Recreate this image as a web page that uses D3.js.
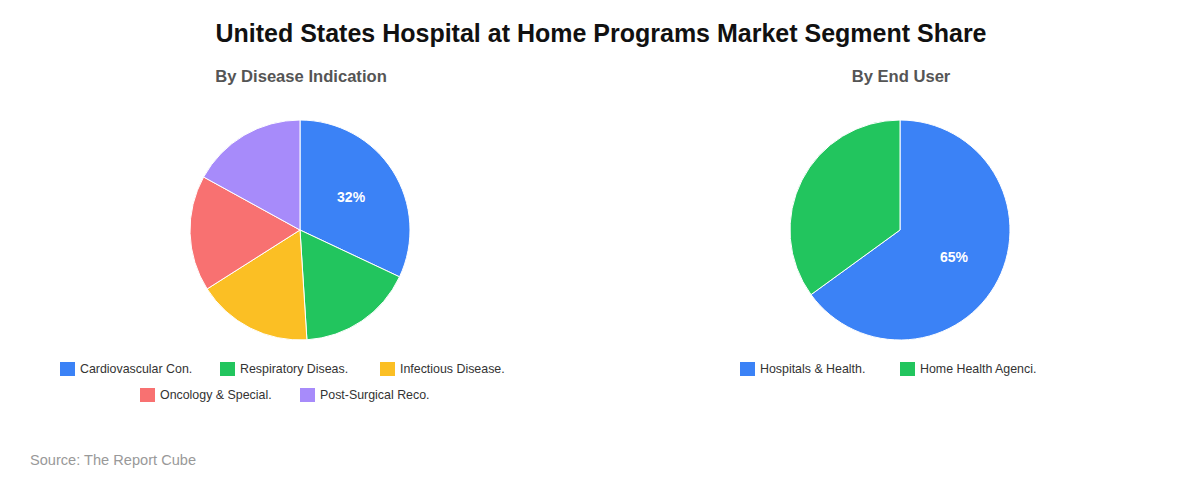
<!DOCTYPE html>
<html><head><meta charset="utf-8">
<script src="https://cdn.jsdelivr.net/npm/d3@7/dist/d3.min.js"></script>
<style>body{margin:0;background:#fff;font-family:"Liberation Sans",Arial,sans-serif;}</style>
</head><body>
<svg id="c" width="1200" height="480"></svg>
<script>
const diseaseCategories = ["Cardiovascular Con.", "Respiratory Diseas.", "Infectious Disease.", "Oncology & Special.", "Post-Surgical Reco."];
const diseaseValues = [32, 17, 17, 17, 17];
const endUserCategories = ["Hospitals & Health.", "Home Health Agenci."];
const endUserValues = [65, 35];
const palette = ["#3b82f6", "#22c55e", "#fbbf24", "#f87171", "#a78bfa"];

const svg = d3.select("#c");
svg.append("text").attr("x", 601).attr("y", 42).attr("text-anchor", "middle")
  .attr("font-size", 25).attr("font-weight", "bold").attr("fill", "#111")
  .text("United States Hospital at Home Programs Market Segment Share");

function drawPie(cx, title, cats, vals, legendRows) {
  svg.append("text").attr("x", cx + 1).attr("y", 82).attr("text-anchor", "middle")
    .attr("font-size", 16.6).attr("font-weight", "bold").attr("fill", "#555").text(title);
  const color = d3.scaleOrdinal().domain(cats).range(palette);
  const data = cats.map((c, i) => ({cat: c, val: vals[i]}));
  const pie = d3.pie().value(d => d.val).sort(null);
  const arcs = pie(data);
  const r = 110;
  const arc = d3.arc().innerRadius(0).outerRadius(r);
  const labelArc = d3.arc().innerRadius(r * 0.55).outerRadius(r * 0.55);
  const g = svg.append("g").attr("transform", `translate(${cx},230)`);
  g.selectAll("path").data(arcs).join("path").attr("d", arc)
    .attr("fill", d => color(d.data.cat)).attr("stroke", "#fff").attr("stroke-width", 1);
  const total = d3.sum(vals);
  const maxV = d3.max(vals);
  g.selectAll("text").data(arcs.filter(d => d.data.val === maxV)).join("text")
    .attr("transform", d => `translate(${labelArc.centroid(d)})`)
    .attr("text-anchor", "middle").attr("dy", "0.35em")
    .attr("font-size", 14).attr("font-weight", "bold").attr("fill", "#fff")
    .text(d => Math.round(d.data.val / total * 100) + "%");
  // legend
  const itemW = 160;
  legendRows.forEach((row, ri) => {
    const startX = cx - row.length * itemW / 2;
    const y = 369 + ri * 26;
    row.forEach((ci, j) => {
      const x = startX + j * itemW;
      svg.append("rect").attr("x", x).attr("y", y - 7).attr("width", 15).attr("height", 14)
        .attr("fill", color(cats[ci]));
      svg.append("text").attr("x", x + 20).attr("y", y).attr("dy", "0.35em")
        .attr("font-size", 12.4).attr("fill", "#333").text(cats[ci]);
    });
  });
}

drawPie(300, "By Disease Indication", diseaseCategories, diseaseValues, [[0, 1, 2], [3, 4]]);
drawPie(900, "By End User", endUserCategories, endUserValues, [[0, 1]]);

svg.append("text").attr("x", 30).attr("y", 465).attr("font-size", 14.6).attr("fill", "#999")
  .text("Source: The Report Cube");
</script>
</body></html>
